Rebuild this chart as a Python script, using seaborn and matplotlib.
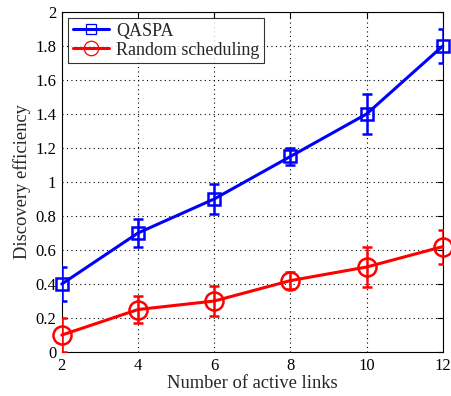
import matplotlib
matplotlib.use("Agg")
import matplotlib.pyplot as plt
import seaborn as sns
import pandas as pd
from matplotlib.lines import Line2D

links = [2, 4, 6, 8, 10, 12]
qaspa = [0.40, 0.70, 0.90, 1.15, 1.40, 1.80]
qaspa_err = [0.10, 0.08, 0.09, 0.05, 0.12, 0.10]
rand = [0.10, 0.25, 0.30, 0.42, 0.50, 0.62]
rand_err = [0.10, 0.08, 0.09, 0.05, 0.12, 0.10]
series_names = ["QASPA", "Random scheduling"]
xticks = [2, 4, 6, 8, 10, 12]
yticks = [0, 0.2, 0.4, 0.6, 0.8, 1, 1.2, 1.4, 1.6, 1.8, 2]
ytick_labels = ["0", "0.2", "0.4", "0.6", "0.8", "1", "1.2", "1.4", "1.6", "1.8", "2"]

sns.set_style("white")
plt.rcParams["font.family"] = ["Liberation Serif", "DejaVu Serif"]

df = pd.DataFrame({
    "x": links * 2,
    "y": qaspa + rand,
    "s": [series_names[0]] * len(links) + [series_names[1]] * len(links),
})

fig = plt.figure(figsize=(4.51, 3.96), dpi=100)
ax = fig.add_axes([0.137, 0.111, 0.845, 0.859])

colors = {"QASPA": "#0000ff", "Random scheduling": "#ff0000"}
markers = {"QASPA": "s", "Random scheduling": "o"}
sizes = {"QASPA": 9, "Random scheduling": 13}

for name, vals, errs in [(series_names[0], qaspa, qaspa_err), (series_names[1], rand, rand_err)]:
    ax.errorbar(links, vals, yerr=errs, fmt="none", ecolor=colors[name],
                elinewidth=1.8, capsize=3.8, capthick=1.8, zorder=3)

sns.lineplot(data=df, x="x", y="y", hue="s", style="s",
             palette=colors, markers=markers, dashes=False,
             linewidth=2.2, ax=ax, legend=False, zorder=4,
             markerfacecolor="none", markeredgewidth=1.8, markersize=10)
for line, name in zip(ax.get_lines()[-2:], series_names):
    line.set_markeredgecolor(colors[name])
    line.set_markersize(sizes[name])
    line.set_clip_on(False)

handles = [Line2D([], [], color=colors[n], marker=markers[n], markerfacecolor="none",
                  markeredgecolor=colors[n], markersize=sizes[n] * 0.8, linewidth=2.2,
                  markeredgewidth=0.9) for n in series_names]
leg = ax.legend(handles, series_names, loc="upper left", fontsize=13,
                frameon=True, fancybox=False, edgecolor="black",
                borderaxespad=0.35, handlelength=2.0, handletextpad=0.4,
                borderpad=0.25, labelspacing=0.1)
leg.get_frame().set_linewidth(0.8)

ax.set_xlim(2, 12)
ax.set_ylim(0, 2)
ax.set_xticks(xticks)
ax.set_yticks(yticks)
ax.set_yticklabels(ytick_labels)
ax.grid(True, linestyle=(0, (1, 3)), color="black", linewidth=0.8)
for sp in ax.spines.values():
    sp.set_color("black")
    sp.set_linewidth(0.8)
ax.tick_params(axis="both", labelsize=12, direction="in", length=4, colors="black",
               top=True, right=True, pad=4)
ax.set_xlabel("Number of active links", fontsize=13.3, labelpad=1)
ax.set_ylabel("Discovery efficiency", fontsize=13.3, labelpad=3)

fig.savefig("out.png", dpi=100)
